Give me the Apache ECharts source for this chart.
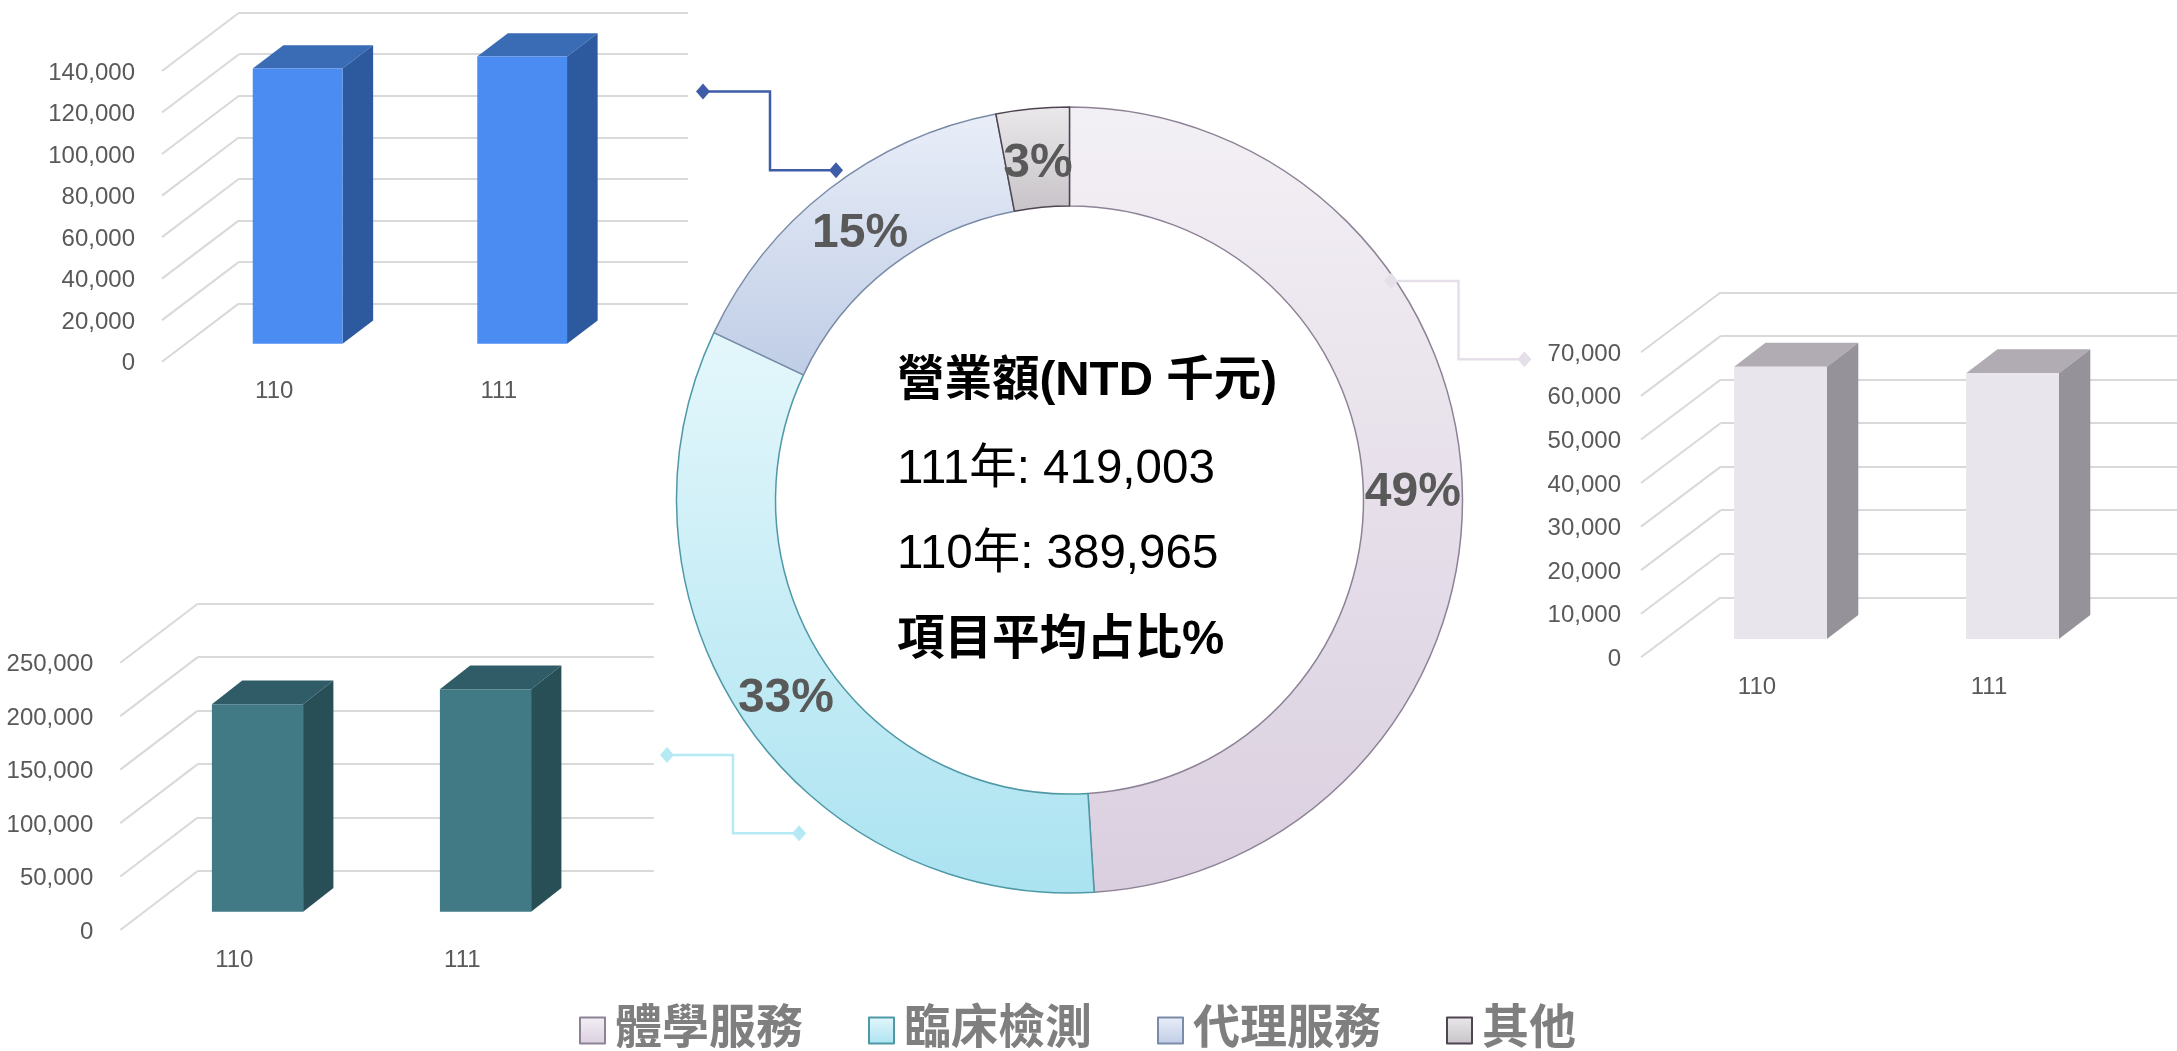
<!DOCTYPE html>
<html>
<head>
<meta charset="utf-8">
<style>
html,body{margin:0;padding:0;background:#fff;}
#main{width:2177px;height:1051px;}
</style>
<script src="https://cdn.jsdelivr.net/npm/echarts@6/dist/echarts.min.js"></script>
</head>
<body>
<div id="main"></div>
<script>
var FONT='"Liberation Sans","Noto Sans CJK TC",sans-serif';

// 營業額占比
var shareNames=['體學服務','臨床檢測','代理服務','其他'];
var shareValues=[49,33,15,3];

// 各項目長條
var barYears=['110','111'];
var physicalValues=[62500,61000];
var physicalTicks=[0,10000,20000,30000,40000,50000,60000,70000];
var clinicalValues=[194000,208000];
var clinicalTicks=[0,50000,100000,150000,200000,250000];
var agencyValues=[132500,138300];
var agencyTicks=[0,20000,40000,60000,80000,100000,120000,140000];

var centerLines=[
	{text:'營業額(NTD 千元)',y:382,bold:true},
	{text:'111年: 419,003',y:470,bold:false},
	{text:'110年: 389,965',y:555,bold:false},
	{text:'項目平均占比%',y:641,bold:true}
];

var sliceStyles=[
	{from:'#f3f0f5',to:'#dacfdf',line:'#8e8296',shift:[-3,4]},
	{from:'#e4f7fb',to:'#abe3f1',line:'#4f99a6',shift:[3,4]},
	{from:'#e9eef8',to:'#bfcde6',line:'#7a8ba8',shift:[3,8]},
	{from:'#eae8ea',to:'#c7c3c8',line:'#4e4550',shift:[1,9]}
];

var grids=[],xAxes=[],yAxes=[],series=[];

function fmt(v){
	return '{t|'+v.toLocaleString('en-US')+'}';
}

// 一組假3D長條:前面一個grid放刻度,後面一個grid放牆上的格線
function addBars(o){
	var front=grids.length,back=front+1;
	var maxV=o.ticks[o.ticks.length-1];
	grids.push({left:o.left,top:o.top,width:o.width,height:o.height});
	grids.push({left:o.left+o.dx,top:o.top-o.dy,width:o.width,height:o.height});
	xAxes.push({
		gridIndex:front,type:'category',data:barYears,
		axisLine:{show:false},axisTick:{show:false},
		axisLabel:{color:'#595959',fontFamily:FONT,fontSize:24,margin:18}
	});
	xAxes.push({gridIndex:back,type:'category',data:barYears,show:false});
	yAxes.push({
		gridIndex:front,type:'value',min:0,max:maxV,interval:o.ticks[1],
		axisLine:{show:false},axisTick:{show:false},splitLine:{show:false},
		axisLabel:{
			margin:o.labelGap,formatter:fmt,
			rich:{t:{color:'#595959',fontFamily:FONT,fontSize:24,padding:[4,0,0,0]}}
		}
	});
	yAxes.push({
		gridIndex:back,type:'value',min:0,max:maxV,interval:o.ticks[1],
		axisLine:{show:false},axisTick:{show:false},axisLabel:{show:false},
		splitLine:{show:true,lineStyle:{color:'#d9d9d9',width:2}}
	});
	// 斜線
	series.push({
		type:'custom',xAxisIndex:front,yAxisIndex:front,silent:true,animation:false,clip:false,z:1,
		data:o.ticks.map(function(t){return [0,t];}),
		renderItem:function(params,api){
			var p=api.coord([0,api.value(1)]);
			var x=params.coordSys.x;
			return {
				type:'line',
				shape:{x1:x,y1:p[1],x2:x+o.dx,y2:p[1]-o.dy},
				style:{stroke:'#d9d9d9',lineWidth:2}
			};
		}
	});
	// 長條
	series.push({
		type:'custom',xAxisIndex:front,yAxisIndex:front,silent:true,animation:false,clip:false,z:3,
		data:o.values.map(function(v,i){return [i,v];}),
		renderItem:function(params,api){
			var t=api.coord([api.value(0),api.value(1)]);
			var b=api.coord([api.value(0),0]);
			var w=api.size([1,0])[0]*0.4;
			var x1=t[0]+o.planeX-w/2,x2=x1+w;
			var y1=t[1]-o.planeY,y2=b[1]-o.planeY;
			var ox=o.depthX,oy=o.depthY;
			return {
				type:'group',
				children:[
					{type:'polygon',shape:{points:[[x1,y1],[x1+ox,y1-oy],[x2+ox,y1-oy],[x2,y1]]},style:{fill:o.colors[1]}},
					{type:'polygon',shape:{points:[[x2,y1],[x2+ox,y1-oy],[x2+ox,y2-oy],[x2,y2]]},style:{fill:o.colors[2]}},
					{type:'rect',shape:{x:x1,y:y1,width:w,height:y2-y1},style:{fill:o.colors[0]}}
				]
			};
		}
	});
}

addBars({
	values:agencyValues,ticks:agencyTicks,colors:['#4a8cf1','#3a6bb5','#2d5a9e'],
	left:162,top:71,width:449,height:290.7,dx:77,dy:58.3,
	planeX:23.4,planeY:18,depthX:30.6,depthY:23.2,labelGap:27
});
addBars({
	values:clinicalValues,ticks:clinicalTicks,colors:['#417a85','#2f5c66','#284e56'],
	left:120.3,top:662.7,width:456,height:267.3,dx:77.4,dy:59,
	planeX:23.2,planeY:18.3,depthX:30.3,depthY:23.7,labelGap:27
});
addBars({
	values:physicalValues,ticks:physicalTicks,colors:['#e9e5ec','#b1acb3','#96929a'],
	left:1641,top:352.3,width:464,height:305,dx:79.8,dy:60,
	planeX:23.5,planeY:18.3,depthX:31.4,depthY:24,labelGap:20
});

// 圓環
series.push({
	type:'pie',
	animation:false,
	silent:true,
	z:5,
	center:[1069.5,500],
	radius:[294,393],
	startAngle:90,
	label:{
		show:true,position:'inside',formatter:'{c}%',
		color:'#595959',fontFamily:FONT,fontSize:48,fontWeight:'bold'
	},
	labelLine:{show:false},
	data:shareNames.map(function(name,i){
		var s=sliceStyles[i];
		return {
			name:name,
			value:shareValues[i],
			label:{offset:s.shift},
			itemStyle:{
				color:new echarts.graphic.LinearGradient(0,0,0,1,[
					{offset:0,color:s.from},
					{offset:1,color:s.to}
				]),
				borderColor:s.line,
				borderWidth:1.5
			}
		};
	})
});

// 連接線
function connector(p1,p2,p3,p4,color){
	function diamond(p){
		return {
			type:'polygon',z:20,silent:true,
			shape:{points:[[p[0]-7,p[1]],[p[0],p[1]-8],[p[0]+7,p[1]],[p[0],p[1]+8]]},
			style:{fill:color}
		};
	}
	return [
		{type:'polyline',z:20,silent:true,shape:{points:[p1,p2,p3,p4]},style:{stroke:color,lineWidth:2.5,fill:null}},
		diamond(p1),
		diamond(p4)
	];
}

var graphics=[]
	.concat(connector([703,91.5],[770,91.5],[770,170.3],[836,170.3],'#3f5ca8'))
	.concat(connector([667,755],[733,755],[733,833.3],[799,833.3],'#b5eaf5'))
	.concat(connector([1391,281],[1458.5,281],[1458.5,359.3],[1524.4,359.3],'#e5dfea'));

centerLines.forEach(function(l){
	graphics.push({
		type:'text',z:20,silent:true,x:897,y:l.y,
		style:{
			text:l.text,fill:'#000',fontFamily:FONT,fontSize:47.5,
			fontWeight:l.bold?'bold':'normal',verticalAlign:'middle',align:'left'
		}
	});
});

var myChart=echarts.init(document.getElementById('main'));
myChart.setOption({
	backgroundColor:'#fff',
	animation:false,
	grid:grids,
	xAxis:xAxes,
	yAxis:yAxes,
	legend:{
		left:579,
		top:1007,
		padding:0,
		selectedMode:false,
		icon:'rect',
		itemWidth:25,
		itemHeight:26,
		itemGap:65,
		data:shareNames,
		textStyle:{
			color:'#7f7f7f',
			fontFamily:FONT,
			fontSize:47,
			fontWeight:'bold',
			padding:[0,0,0,5]
		}
	},
	series:series,
	graphic:graphics
});
</script>
</body>
</html>
